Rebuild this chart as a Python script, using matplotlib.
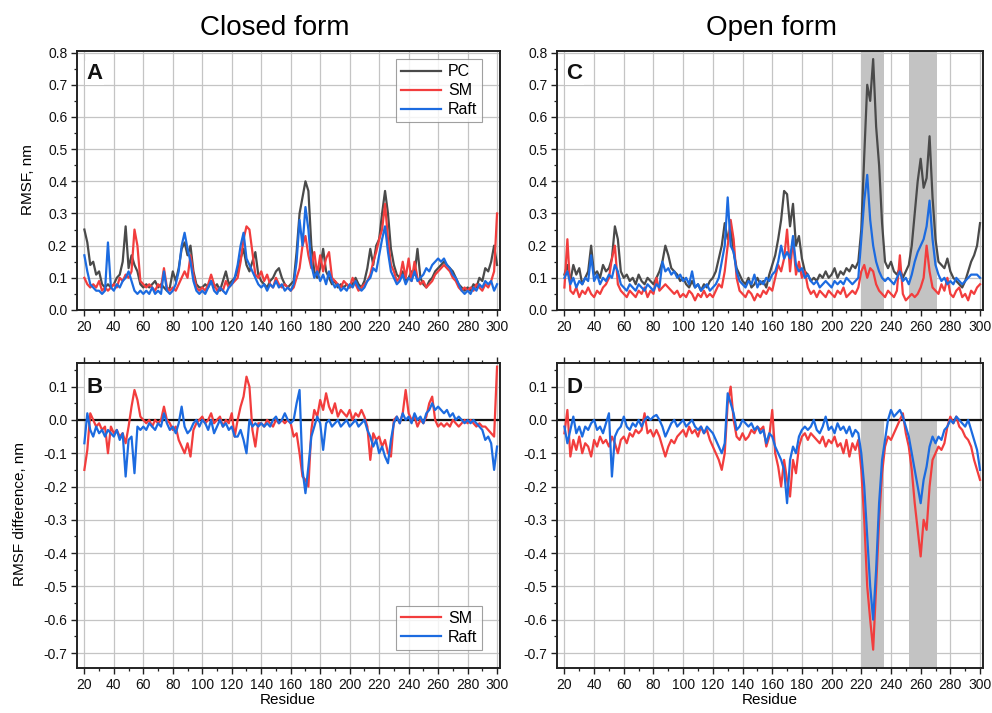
import matplotlib
matplotlib.use("Agg")
import matplotlib.pyplot as plt
from matplotlib.ticker import MultipleLocator

plt.rcParams['font.family'] = ['Liberation Sans', 'DejaVu Sans']

residues = list(range(20, 301, 2))
x_ticks = list(range(20, 301, 20))

# ---------------- Closed form RMSF (nm) ----------------
closed_pc = [
    0.25, 0.21, 0.14, 0.15, 0.11, 0.12, 0.08, 0.07, 0.08, 0.07,
    0.08, 0.10, 0.11, 0.15, 0.26, 0.13, 0.17, 0.14, 0.12, 0.08,
    0.07, 0.08, 0.07, 0.08, 0.09, 0.07, 0.08, 0.07, 0.06, 0.07,
    0.12, 0.09, 0.13, 0.19, 0.21, 0.17, 0.20, 0.12, 0.08, 0.07,
    0.07, 0.08, 0.07, 0.09, 0.07, 0.08, 0.06, 0.09, 0.12, 0.08,
    0.09, 0.10, 0.12, 0.16, 0.19, 0.14, 0.12, 0.15, 0.18, 0.11,
    0.09, 0.08, 0.07, 0.09, 0.10, 0.12, 0.13, 0.10, 0.08, 0.07,
    0.08, 0.09, 0.18, 0.30, 0.35, 0.40, 0.37, 0.20, 0.12, 0.10,
    0.13, 0.19, 0.12, 0.10, 0.08, 0.09, 0.07, 0.08, 0.07, 0.08,
    0.07, 0.08, 0.10, 0.08, 0.07, 0.09, 0.13, 0.19, 0.14, 0.20,
    0.22, 0.30, 0.37, 0.30, 0.19, 0.14, 0.11, 0.10, 0.12, 0.09,
    0.10, 0.12, 0.11, 0.19, 0.10, 0.08, 0.07, 0.09, 0.10, 0.12,
    0.13, 0.14, 0.15, 0.14, 0.13, 0.12, 0.10, 0.08, 0.07, 0.06,
    0.07, 0.06, 0.08, 0.07, 0.10, 0.09, 0.13, 0.12, 0.15, 0.20, 0.14]
closed_sm = [
    0.10, 0.08, 0.07, 0.08, 0.07, 0.09, 0.06, 0.07, 0.06, 0.07,
    0.08, 0.07, 0.10, 0.09, 0.11, 0.10, 0.12, 0.25, 0.20, 0.09,
    0.08, 0.07, 0.08, 0.07, 0.06, 0.08, 0.07, 0.13, 0.07, 0.06,
    0.07, 0.06, 0.08, 0.10, 0.12, 0.10, 0.17, 0.11, 0.07, 0.06,
    0.07, 0.06, 0.08, 0.11, 0.08, 0.06, 0.07, 0.06, 0.09, 0.07,
    0.08, 0.09, 0.10, 0.15, 0.22, 0.26, 0.25, 0.18, 0.11, 0.10,
    0.12, 0.09, 0.11, 0.08, 0.07, 0.10, 0.08, 0.07, 0.08, 0.07,
    0.06, 0.07, 0.10, 0.13, 0.20, 0.23, 0.17, 0.13, 0.18, 0.11,
    0.17, 0.12, 0.16, 0.18, 0.10, 0.09, 0.08, 0.07, 0.09, 0.08,
    0.07, 0.10, 0.08, 0.06, 0.07, 0.08, 0.09, 0.11, 0.15, 0.18,
    0.22, 0.25, 0.33, 0.22, 0.14, 0.12, 0.09, 0.10, 0.15, 0.10,
    0.16, 0.09, 0.15, 0.10, 0.08, 0.09, 0.07, 0.08, 0.09, 0.11,
    0.12, 0.13, 0.14, 0.13, 0.12, 0.10, 0.09, 0.07, 0.06, 0.07,
    0.06, 0.07, 0.06, 0.08, 0.07, 0.06, 0.08, 0.07, 0.09, 0.12, 0.30]
closed_raft = [
    0.17, 0.12, 0.08, 0.07, 0.06, 0.06, 0.05, 0.06, 0.21, 0.07,
    0.06, 0.08, 0.07, 0.09, 0.10, 0.12, 0.09, 0.06, 0.05, 0.06,
    0.05, 0.06, 0.05, 0.07, 0.05, 0.06, 0.05, 0.12, 0.06, 0.05,
    0.06, 0.08, 0.12, 0.20, 0.24, 0.19, 0.15, 0.09, 0.06, 0.05,
    0.06, 0.05, 0.07, 0.09, 0.06, 0.05, 0.07, 0.06, 0.05, 0.07,
    0.08, 0.10, 0.14, 0.20, 0.24, 0.16, 0.14, 0.12, 0.10, 0.08,
    0.07, 0.08, 0.06, 0.08, 0.07, 0.09, 0.07, 0.08, 0.06, 0.07,
    0.06, 0.08, 0.15, 0.28, 0.20, 0.32, 0.25, 0.14, 0.10, 0.12,
    0.09, 0.11, 0.08, 0.12, 0.09, 0.07, 0.08, 0.06, 0.07, 0.06,
    0.08, 0.07, 0.09, 0.07, 0.06, 0.07, 0.09, 0.10, 0.13, 0.12,
    0.17, 0.22, 0.26, 0.18, 0.12, 0.10, 0.08, 0.09, 0.11, 0.08,
    0.10, 0.09, 0.12, 0.09, 0.10, 0.11, 0.13, 0.12, 0.14, 0.15,
    0.16, 0.15, 0.16, 0.14, 0.13, 0.11, 0.10, 0.08, 0.06, 0.05,
    0.06, 0.05, 0.07, 0.06, 0.08, 0.07, 0.09, 0.08, 0.09, 0.06, 0.08]

# ---------------- Closed form RMSF difference (nm) ----------------
closed_diff_sm = [
    -0.15, -0.09, 0.02, 0.00, -0.02, -0.01, -0.03, -0.02, -0.10, -0.02,
    -0.04, -0.03, -0.05, -0.04, -0.07, -0.02, 0.04, 0.09, 0.06, 0.01,
    0.00, -0.01, 0.00, -0.02, 0.00, -0.01, 0.00, 0.04, 0.00, -0.01,
    -0.03, -0.02, -0.06, -0.08, -0.10, -0.07, -0.11, -0.03, -0.01, 0.00,
    0.01, -0.01, 0.00, 0.02, -0.01, 0.00, 0.01, -0.02, 0.00, -0.01,
    0.02, -0.05, 0.00, 0.04, 0.07, 0.13, 0.10, -0.03, -0.08, -0.01,
    -0.01, -0.02, 0.00, -0.01, -0.02, 0.00, -0.01, 0.00, -0.01, 0.00,
    -0.01, -0.05, -0.04, -0.10, -0.17, -0.18, -0.20, -0.03, 0.03, 0.01,
    0.06, 0.03, 0.08, 0.04, 0.02, 0.05, 0.01, 0.03, 0.02, 0.01,
    0.03, 0.00, 0.02, 0.01, 0.03, 0.01, -0.02, -0.12, -0.04, -0.06,
    -0.05, -0.08, -0.06, -0.10, -0.11, 0.00, 0.01, -0.01, 0.02, 0.09,
    0.02, 0.00, 0.01, -0.02, 0.00, -0.01, 0.01, 0.05, 0.07, 0.00,
    -0.02, -0.01, -0.02, -0.01, -0.02, 0.00, -0.01, -0.02, -0.01, 0.00,
    -0.01, 0.00, -0.01, -0.02, -0.01, -0.02, -0.02, -0.03, -0.04, -0.05, 0.16]
closed_diff_raft = [
    -0.07, 0.02, -0.03, -0.05, -0.02, -0.04, -0.03, -0.05, -0.03, -0.04,
    -0.05, -0.03, -0.06, -0.04, -0.17, -0.06, -0.05, -0.16, -0.02, -0.03,
    -0.02, -0.03, -0.01, -0.02, -0.03, -0.01, -0.02, 0.02, -0.01, -0.03,
    -0.02, -0.04, -0.01, 0.04, -0.02, -0.04, -0.03, -0.01, 0.00, -0.02,
    0.00, -0.01, -0.03, 0.00, -0.04, -0.02, 0.00, -0.02, -0.01, -0.03,
    -0.02, -0.05, -0.05, -0.03, -0.06, -0.10, 0.00, -0.02, -0.01, -0.02,
    -0.01, -0.02, -0.01, -0.02, 0.00, 0.01, -0.01, 0.00, 0.02, 0.00,
    -0.01, 0.00, 0.05, 0.09, -0.15, -0.22, -0.14, -0.05, -0.02, 0.01,
    -0.01, -0.09, -0.01, 0.00, -0.02, -0.01, 0.00, -0.02, -0.01, 0.00,
    -0.02, -0.01, 0.00, -0.02, -0.01, 0.00, -0.03, -0.05, -0.08, -0.06,
    -0.10, -0.08, -0.11, -0.13, -0.06, -0.01, 0.01, -0.01, 0.02, 0.00,
    0.01, -0.01, 0.02, 0.00, 0.01, -0.01, 0.02, 0.03, 0.05, 0.03,
    0.04, 0.03, 0.02, 0.03, 0.01, 0.02, 0.00, 0.01, 0.00, -0.01,
    0.00, -0.01, 0.00, -0.01, -0.02, -0.03, -0.06, -0.05, -0.07, -0.15, -0.08]

# ---------------- Open form RMSF (nm) ----------------
open_pc = [
    0.11, 0.14, 0.09, 0.14, 0.11, 0.13, 0.08, 0.10, 0.12, 0.20,
    0.11, 0.12, 0.10, 0.14, 0.12, 0.13, 0.16, 0.26, 0.22, 0.12,
    0.10, 0.11, 0.09, 0.10, 0.08, 0.11, 0.09, 0.08, 0.10, 0.09,
    0.08, 0.10, 0.12, 0.15, 0.20, 0.17, 0.13, 0.12, 0.11, 0.09,
    0.10, 0.08, 0.07, 0.09, 0.07, 0.08, 0.06, 0.08, 0.07, 0.09,
    0.10, 0.12, 0.16, 0.20, 0.27, 0.22, 0.25, 0.18, 0.13, 0.11,
    0.09, 0.08, 0.10, 0.07, 0.08, 0.10, 0.08, 0.09, 0.07, 0.11,
    0.14, 0.17, 0.22, 0.28, 0.37, 0.36, 0.26, 0.33, 0.20, 0.23,
    0.16, 0.12, 0.11, 0.09, 0.10, 0.09, 0.11, 0.10, 0.12, 0.10,
    0.11, 0.13, 0.10, 0.12, 0.11, 0.13, 0.12, 0.14, 0.13, 0.15,
    0.25, 0.48, 0.70, 0.65, 0.78, 0.57, 0.45, 0.27, 0.15, 0.13,
    0.15, 0.12, 0.11, 0.13, 0.10, 0.12, 0.14, 0.20, 0.30, 0.40,
    0.47, 0.38, 0.41, 0.54, 0.35, 0.22, 0.15, 0.14, 0.13, 0.16,
    0.12, 0.10, 0.09, 0.08, 0.07, 0.09, 0.12, 0.15, 0.17, 0.20, 0.27]
open_sm = [
    0.07, 0.22, 0.06, 0.05, 0.07, 0.04, 0.06, 0.05, 0.07, 0.05,
    0.04, 0.06, 0.05, 0.07, 0.08, 0.10, 0.16, 0.20, 0.08, 0.06,
    0.05, 0.04, 0.06, 0.05, 0.04, 0.06, 0.05, 0.07, 0.04, 0.06,
    0.05, 0.10, 0.06, 0.07, 0.08, 0.07, 0.06, 0.05, 0.06, 0.04,
    0.05, 0.04, 0.06, 0.05, 0.03, 0.05, 0.04, 0.06, 0.04, 0.05,
    0.04, 0.06, 0.08, 0.07, 0.12, 0.20, 0.28, 0.22, 0.10, 0.06,
    0.05, 0.04, 0.06, 0.05, 0.03, 0.05, 0.04, 0.06, 0.05, 0.07,
    0.06, 0.10, 0.14, 0.12, 0.16, 0.25, 0.12, 0.22, 0.11, 0.15,
    0.10, 0.12, 0.07, 0.05, 0.06, 0.04, 0.06, 0.05, 0.04, 0.06,
    0.05, 0.04, 0.06, 0.05, 0.07, 0.04, 0.05, 0.06, 0.05, 0.07,
    0.12, 0.14, 0.10, 0.13, 0.12, 0.08, 0.06, 0.05, 0.04, 0.06,
    0.05, 0.04, 0.06, 0.17, 0.05, 0.03, 0.04, 0.05, 0.04, 0.05,
    0.07, 0.10, 0.20, 0.12, 0.07, 0.06, 0.05, 0.08, 0.06, 0.10,
    0.05, 0.04, 0.06, 0.07, 0.04, 0.05, 0.03, 0.06, 0.05, 0.07, 0.08]
open_raft = [
    0.10, 0.12, 0.08, 0.10, 0.07, 0.09, 0.08, 0.10, 0.09, 0.17,
    0.09, 0.11, 0.08, 0.10, 0.09, 0.11, 0.10, 0.14, 0.12, 0.08,
    0.07, 0.06, 0.08, 0.07, 0.06, 0.08, 0.07, 0.06, 0.08, 0.07,
    0.06, 0.08, 0.07, 0.15, 0.12, 0.13, 0.11, 0.12, 0.10, 0.11,
    0.09, 0.10, 0.08, 0.12, 0.07, 0.08, 0.06, 0.07, 0.08, 0.06,
    0.07, 0.08, 0.10, 0.15, 0.20, 0.35, 0.20, 0.18, 0.12, 0.09,
    0.08, 0.07, 0.09, 0.08, 0.11, 0.07, 0.09, 0.08, 0.10, 0.09,
    0.11, 0.12, 0.15, 0.20, 0.16, 0.18, 0.16, 0.23, 0.14, 0.12,
    0.13, 0.10, 0.11, 0.09, 0.08, 0.09, 0.07, 0.08, 0.09, 0.08,
    0.07, 0.09, 0.08, 0.09, 0.08, 0.10, 0.09, 0.08, 0.09, 0.10,
    0.22, 0.34, 0.42, 0.28, 0.20, 0.15, 0.12, 0.10, 0.09, 0.10,
    0.09, 0.08, 0.10, 0.12, 0.09, 0.10, 0.08, 0.11, 0.15, 0.18,
    0.20, 0.22, 0.26, 0.34, 0.22, 0.14, 0.11, 0.09, 0.10, 0.08,
    0.09, 0.08, 0.10, 0.09, 0.08, 0.09, 0.10, 0.11, 0.11, 0.11, 0.10]

# ---------------- Open form RMSF difference (nm) ----------------
open_diff_sm = [
    -0.04, 0.03, -0.11, -0.06, -0.09, -0.05, -0.10, -0.07, -0.08, -0.11,
    -0.06, -0.08, -0.05, -0.07, -0.06, -0.08, -0.05, -0.07, -0.10, -0.06,
    -0.05, -0.07, -0.04, -0.05, -0.03, -0.04, -0.03, 0.02, -0.04, -0.03,
    -0.05, -0.03, -0.05, -0.08, -0.11, -0.08, -0.06, -0.07, -0.05, -0.04,
    -0.03, -0.05, -0.02, -0.04, -0.03, -0.05, -0.02, -0.04, -0.03, -0.06,
    -0.08, -0.10, -0.12, -0.15, -0.10, 0.05, 0.10, 0.00, -0.05, -0.06,
    -0.04, -0.06, -0.05, -0.03, -0.04, -0.02, -0.03, -0.02, -0.08, -0.05,
    0.03, -0.10, -0.14, -0.20, -0.12, -0.18, -0.23, -0.12, -0.16, -0.08,
    -0.05, -0.04, -0.06, -0.04, -0.05, -0.06, -0.07, -0.05, -0.08, -0.06,
    -0.07, -0.05, -0.08, -0.07, -0.10, -0.06, -0.11, -0.07, -0.09, -0.06,
    -0.15, -0.30, -0.50, -0.60, -0.69, -0.50, -0.30, -0.16, -0.08, -0.05,
    -0.06, -0.04, -0.02, 0.00, 0.02, -0.04, -0.08, -0.15, -0.25, -0.33,
    -0.41, -0.30, -0.33, -0.20, -0.12, -0.10, -0.08, -0.09, -0.07, -0.02,
    0.01, -0.01, 0.01, -0.02, -0.03, -0.05, -0.06, -0.08, -0.12, -0.15, -0.18]
open_diff_raft = [
    -0.02, -0.07, -0.03, 0.01, -0.04, -0.02, -0.05, -0.02, -0.03, -0.01,
    0.00, -0.03, -0.02, -0.04, -0.01, 0.02, -0.17, -0.05, -0.03, -0.02,
    0.01, -0.02, -0.03, -0.01, -0.02, 0.00, -0.02, 0.00, 0.01, 0.00,
    0.01, 0.015, 0.00, -0.02, -0.05, -0.03, -0.01, 0.00, -0.02, -0.01,
    0.00, -0.02, -0.01, 0.00, -0.02, -0.03, -0.02, -0.04, -0.02, -0.03,
    -0.04, -0.06, -0.08, -0.10, -0.07, 0.08, 0.05, 0.02, -0.03, -0.02,
    0.00, -0.01, -0.02, -0.01, -0.03, -0.02, -0.04, -0.03, -0.07, -0.04,
    -0.05, -0.08, -0.10, -0.12, -0.15, -0.25, -0.12, -0.08, -0.10, -0.05,
    -0.03, -0.02, -0.03, -0.02, 0.00, -0.03, -0.04, -0.02, 0.01, -0.03,
    -0.02, -0.04, -0.01, -0.03, -0.02, -0.04, -0.02, -0.05, -0.03, -0.04,
    -0.10, -0.20, -0.35, -0.50, -0.60, -0.45, -0.25, -0.12, -0.06, 0.00,
    0.03, 0.01, 0.02, 0.03, 0.01, -0.02, -0.05, -0.10, -0.15, -0.20,
    -0.25, -0.18, -0.14, -0.08, -0.05, -0.07, -0.05, -0.06, -0.03, -0.02,
    0.00, -0.01, 0.01, 0.00, -0.01, -0.02, 0.00, -0.03, -0.06, -0.09, -0.15]

# shaded residue ranges (open form)
shade_ranges = [(220, 235), (252, 271)]

c_pc = '#4a4a4a'
c_sm = '#f23d3d'
c_raft = '#1c6be0'
lw = 1.6

W, H = 992, 713
fig = plt.figure(figsize=(W / 100, H / 100), dpi=100)


def rect(l, r, t, b):
    return [l / W, 1 - b / H, (r - l) / W, (b - t) / H]


axA = fig.add_axes(rect(77, 500, 51, 310))
axC = fig.add_axes(rect(557, 983, 51, 310))
axB = fig.add_axes(rect(77, 500, 363, 668))
axD = fig.add_axes(rect(557, 983, 363, 668))


def style(ax, ylim, top_ticks):
    ax.set_xlim(15, 302)
    ax.set_ylim(*ylim)
    ax.set_xticks(x_ticks)
    ax.xaxis.set_minor_locator(MultipleLocator(10))
    ax.yaxis.set_major_locator(MultipleLocator(0.1))
    ax.yaxis.set_minor_locator(MultipleLocator(0.05))
    ax.yaxis.set_major_formatter(matplotlib.ticker.FormatStrFormatter('%.1f'))
    ax.grid(True, which='major', color='#c4c4c4', lw=0.9)
    ax.set_axisbelow(True)
    ax.tick_params(which='both', direction='out', labelsize=10, top=top_ticks,
                   right=False, colors='#222222', labelcolor='#111111', pad=2.5)
    ax.tick_params(which='major', length=4.5, width=1.0)
    ax.tick_params(which='minor', length=2.5, width=0.9)
    for s in ax.spines.values():
        s.set_linewidth(1.4)
        s.set_color('#222222')


# Panel A
style(axA, (0, 0.805), False)
axA.plot(residues, closed_pc, color=c_pc, lw=lw, label='PC')
axA.plot(residues, closed_sm, color=c_sm, lw=lw, label='SM')
axA.plot(residues, closed_raft, color=c_raft, lw=lw, label='Raft')
legA = axA.legend(loc='upper right', bbox_to_anchor=(0.965, 0.98), fontsize=11.5,
                  frameon=True, fancybox=False, handlelength=2.5, borderpad=0.3,
                  labelspacing=0.25, handletextpad=0.45, borderaxespad=0.2)
legA.get_frame().set_edgecolor('#888888')
legA.get_frame().set_linewidth(0.8)

# Panel C
style(axC, (0, 0.805), False)
for a, b in shade_ranges:
    axC.axvspan(a, b, color='#c3c3c3', lw=0, zorder=1.5)
axC.plot(residues, open_pc, color=c_pc, lw=lw, zorder=2)
axC.plot(residues, open_sm, color=c_sm, lw=lw, zorder=2)
axC.plot(residues, open_raft, color=c_raft, lw=lw, zorder=2)

# Panel B
style(axB, (-0.745, 0.171), True)
axB.axhline(0, color='#111111', lw=1.6, zorder=1.8)
axB.plot(residues, closed_diff_sm, color=c_sm, lw=lw, label='SM', zorder=2)
axB.plot(residues, closed_diff_raft, color=c_raft, lw=lw, label='Raft', zorder=2)
legB = axB.legend(loc='lower right', bbox_to_anchor=(0.965, 0.05), fontsize=11.5,
                  frameon=True, fancybox=False, handlelength=2.5, borderpad=0.3,
                  labelspacing=0.25, handletextpad=0.45, borderaxespad=0.2)
legB.get_frame().set_edgecolor('#888888')
legB.get_frame().set_linewidth(0.8)

# Panel D
style(axD, (-0.745, 0.171), True)
for a, b in shade_ranges:
    axD.fill_between([a, b], [-0.745, -0.745], [0, 0], color='#c3c3c3', lw=0, zorder=1.5)
axD.axhline(0, color='#111111', lw=1.6, zorder=1.8)
axD.plot(residues, open_diff_sm, color=c_sm, lw=lw, zorder=2)
axD.plot(residues, open_diff_raft, color=c_raft, lw=lw, zorder=2)

# panel letters
for ax, letter in [(axA, 'A'), (axB, 'B'), (axC, 'C'), (axD, 'D')]:
    ax.text(0.022, 0.955, letter, transform=ax.transAxes, fontsize=16,
            fontweight='bold', va='top', ha='left', color='#111111',
            bbox=dict(facecolor='white', edgecolor='none', pad=1.0), zorder=5)

# titles and labels
fig.text(275 / W, 1 - 28 / H, 'Closed form', ha='center', va='center', fontsize=20)
fig.text(772 / W, 1 - 28 / H, 'Open form', ha='center', va='center', fontsize=20)
fig.text(28 / W, 1 - 180 / H, 'RMSF, nm', rotation=90, ha='center', va='center', fontsize=11)
fig.text(20 / W, 1 - 514 / H, 'RMSF difference, nm', rotation=90, ha='center',
         va='center', fontsize=11)
fig.text(288 / W, 1 - 700 / H, 'Residue', ha='center', va='center', fontsize=11)
fig.text(770 / W, 1 - 700 / H, 'Residue', ha='center', va='center', fontsize=11)

fig.savefig('out.png', dpi=100)
